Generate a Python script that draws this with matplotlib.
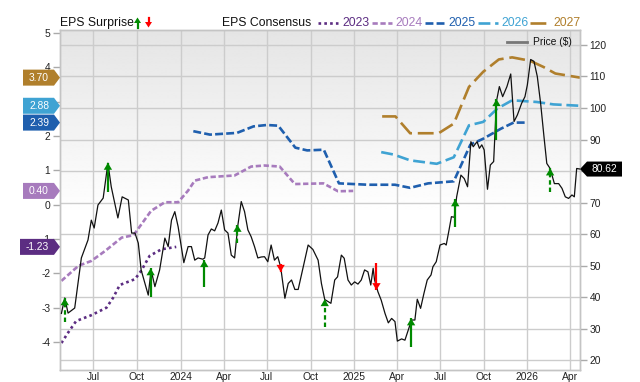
import matplotlib
matplotlib.use('Agg')
import matplotlib.pyplot as plt
from matplotlib.transforms import blended_transform_factory
from matplotlib.patches import Polygon
from matplotlib.lines import Line2D
import numpy as np
import pandas as pd

plt.rcParams['font.family'] = ['Liberation Sans', 'DejaVu Sans']

# ---------------- data ----------------
price_dates = [
    "2023-04-25", "2023-05-02", "2023-05-09", "2023-05-23", "2023-06-06", "2023-06-20", "2023-06-27",
    "2023-07-03", "2023-07-11", "2023-07-22", "2023-08-01", "2023-08-08", "2023-08-22", "2023-08-31",
    "2023-09-13", "2023-09-20", "2023-09-27", "2023-10-04", "2023-10-10", "2023-10-25", "2023-10-31",
    "2023-11-08", "2023-11-18", "2023-11-29", "2023-12-06", "2023-12-13", "2023-12-20", "2023-12-27",
    "2024-01-08", "2024-01-17", "2024-01-24", "2024-01-31", "2024-02-07", "2024-02-17", "2024-02-21",
    "2024-02-28", "2024-03-06", "2024-03-13", "2024-03-20", "2024-03-27", "2024-04-03", "2024-04-10",
    "2024-04-17", "2024-04-24", "2024-05-01", "2024-05-08", "2024-05-15", "2024-05-22", "2024-05-29",
    "2024-06-05", "2024-06-12", "2024-06-19", "2024-06-26", "2024-07-03", "2024-07-10", "2024-07-17",
    "2024-07-24", "2024-07-30", "2024-08-08", "2024-08-15", "2024-08-22", "2024-08-29", "2024-09-05",
    "2024-09-15", "2024-09-26", "2024-10-06", "2024-10-17", "2024-10-24", "2024-10-31", "2024-11-13",
    "2024-11-21", "2024-11-27", "2024-12-05", "2024-12-11", "2024-12-19", "2024-12-26",
    "2025-01-02", "2025-01-09", "2025-01-16", "2025-01-23", "2025-01-30", "2025-02-05", "2025-02-10",
    "2025-02-13", "2025-02-20", "2025-02-27", "2025-03-07", "2025-03-14", "2025-03-21", "2025-03-28",
    "2025-04-02", "2025-04-11", "2025-04-18", "2025-04-25", "2025-05-02", "2025-05-09", "2025-05-14",
    "2025-05-21", "2025-05-28", "2025-06-04", "2025-06-12", "2025-06-16", "2025-06-23", "2025-07-01",
    "2025-07-10", "2025-07-14", "2025-07-20", "2025-07-25", "2025-07-31", "2025-08-05", "2025-08-14",
    "2025-08-21", "2025-08-28", "2025-09-04", "2025-09-09", "2025-09-17", "2025-09-22", "2025-09-27",
    "2025-10-02", "2025-10-09", "2025-10-15", "2025-10-22", "2025-10-28", "2025-11-03", "2025-11-10",
    "2025-11-19", "2025-11-27", "2025-12-04", "2025-12-11", "2025-12-20", "2025-12-27",
    "2026-01-01", "2026-01-08", "2026-01-15", "2026-01-22", "2026-01-29", "2026-02-05", "2026-02-11",
    "2026-02-18", "2026-02-27", "2026-03-08", "2026-03-15", "2026-03-22", "2026-03-29", "2026-04-05",
    "2026-04-10", "2026-04-15", "2026-04-22",
]
price_values = [
    34.8, 39.7, 34.9, 36.5, 52.4, 58.1, 64.4,
    61.9, 69.2, 71.4, 82.5, 75.0, 65.1, 71.8,
    70.8, 60.3, 60.3, 57.1, 48.6, 40.6, 48.6,
    43.3, 48.6, 58.7, 56.0, 64.4, 67.1, 62.3,
    50.9, 56.0, 56.0, 51.7, 52.4, 52.0, 52.4,
    59.7, 61.6, 61.0, 63.5, 67.6, 61.3, 60.3,
    53.3, 52.4, 62.9, 70.3, 67.1, 61.3, 59.1,
    56.0, 52.4, 52.7, 52.8, 51.2, 56.5, 51.7,
    52.8, 49.6, 39.6, 44.3, 45.4, 42.4, 42.4,
    49.1, 56.5, 55.1, 51.7, 44.3, 39.2, 38.0,
    45.4, 46.4, 53.3, 52.3, 45.4, 43.8,
    44.8, 44.1, 45.4, 48.6, 48.0, 43.8, 49.1,
    45.4, 41.7, 39.0, 34.8, 31.8, 33.2, 32.2,
    26.0, 26.7, 26.3, 29.5, 32.7, 32.7, 39.3,
    36.4, 41.1, 45.4, 47.0, 49.6, 51.2, 56.5,
    57.0, 56.5, 61.3, 65.5, 65.3, 71.8, 78.7,
    77.6, 75.0, 89.3, 87.7, 89.3, 87.2, 88.3,
    86.7, 74.2, 81.9, 83.0, 102.2, 106.8, 103.6,
    106.8, 110.8, 95.7, 97.8, 101.5, 103.6,
    107.3, 115.4, 114.8, 110.0, 101.5, 91.0, 82.4,
    80.8, 76.0, 76.0, 74.5, 71.8, 71.3, 72.4,
    71.8, 80.8, 80.62,
]
last_price = 80.62

eps2023_dates = ["2023-04-25", "2023-05-09", "2023-05-26", "2023-06-27", "2023-07-29", "2023-08-12",
                 "2023-08-26", "2023-09-27", "2023-10-10", "2023-10-28", "2023-11-22", "2023-12-23"]
eps2023_values = [-4.03, -3.73, -3.39, -3.22, -3.00, -2.71, -2.34, -2.17, -1.93, -1.49, -1.30, -1.23]

eps2024_dates = ["2023-04-25", "2023-05-31", "2023-06-27", "2023-07-26", "2023-08-30", "2023-09-24",
                 "2023-10-31", "2023-11-29", "2023-12-27", "2024-01-17", "2024-01-31", "2024-02-28",
                 "2024-04-24", "2024-05-29", "2024-06-26", "2024-07-28", "2024-08-29", "2024-10-28",
                 "2024-11-28", "2024-12-30"]
eps2024_values = [-2.22, -1.78, -1.64, -1.35, -0.96, -0.89, -0.18, 0.07, 0.07, 0.41, 0.70, 0.80,
                  0.85, 1.11, 1.14, 1.11, 0.60, 0.62, 0.39, 0.40]

eps2025_dates = ["2024-01-28", "2024-03-03", "2024-04-29", "2024-06-03", "2024-07-01", "2024-07-25",
                 "2024-08-30", "2024-09-24", "2024-10-29", "2024-11-30", "2025-01-30", "2025-03-28",
                 "2025-04-29", "2025-06-06", "2025-07-30", "2025-09-03", "2025-09-30", "2025-11-06",
                 "2025-12-03", "2025-12-27"]
eps2025_values = [2.14, 2.04, 2.09, 2.28, 2.32, 2.30, 1.66, 1.58, 1.60, 0.62, 0.58, 0.58,
                  0.49, 0.62, 0.68, 1.75, 1.92, 2.21, 2.39, 2.39]

eps2026_dates = ["2025-02-27", "2025-03-25", "2025-04-29", "2025-06-24", "2025-07-30", "2025-08-31",
                 "2025-09-30", "2025-10-30", "2025-11-30", "2026-01-21", "2026-02-25", "2026-04-22"]
eps2026_values = [1.53, 1.46, 1.29, 1.19, 1.38, 2.31, 2.41, 2.80, 3.04, 2.99, 2.92, 2.88]

eps2027_dates = ["2025-03-01", "2025-03-29", "2025-04-29", "2025-06-28", "2025-07-30", "2025-08-31",
                 "2025-09-30", "2025-11-02", "2025-11-30", "2026-01-07", "2026-02-04", "2026-03-01",
                 "2026-04-22"]
eps2027_values = [2.57, 2.57, 2.08, 2.08, 2.36, 3.43, 3.87, 4.23, 4.29, 4.19, 4.01, 3.82, 3.70]

consensus_years = ["2023", "2024", "2025", "2026", "2027"]
consensus_latest = [-1.23, 0.40, 2.39, 2.88, 3.70]

surprise_dates = ["2023-05-02", "2023-08-01", "2023-10-30", "2024-02-20", "2024-04-30", "2024-07-30",
                  "2024-10-31", "2025-02-17", "2025-05-01", "2025-08-02", "2025-10-28", "2026-02-18"]
surprise_from = [32.2, 73.4, 40.1, 43.1, 57.2, 50.5, 30.6, 50.7, 24.0, 62.2, 89.8, 73.4]
surprise_to = [39.6, 82.6, 49.1, 51.7, 62.9, 48.0, 39.3, 42.2, 33.2, 71.0, 102.8, 80.8]
surprise_dashed = [True, False, False, False, True, False, True, False, False, False, False, True]

tick_dates = ["2023-07-01", "2023-10-01", "2024-01-01", "2024-04-01", "2024-07-01", "2024-10-01",
              "2025-01-01", "2025-04-01", "2025-07-01", "2025-10-01", "2026-01-01", "2026-04-01"]
tick_labels = ["Jul", "Oct", "2024", "Apr", "Jul", "Oct", "2025", "Apr", "Jul", "Oct", "2026", "Apr"]

x_start, x_end = "2023-04-22", "2026-04-22"

# ---------------- style ----------------
colors = {"2023": "#5c2d82", "2024": "#a77bbd", "2025": "#1f5fae", "2026": "#3fa3d3", "2027": "#b07f2c"}
styles = {"2023": (0, (1.0, 1.2)), "2024": (0, (2.0, 1.0)), "2025": (0, (3.0, 1.2)),
          "2026": (0, (4.5, 1.8)), "2027": (0, (6.0, 2.2))}
GREEN, RED = "#008a00", "#ff0000"
GRID = "#cccccc"

W, H = 640, 382
L, R, T, B = 60, 580, 30, 370
fig = plt.figure(figsize=(W / 100, H / 100), dpi=100)
rect = [L / W, 1 - B / H, (R - L) / W, (B - T) / H]


def fx(px):
    return px / W


def fy(py):
    return 1 - py / H


# gradient background
bg = fig.add_axes(rect, zorder=0)
rows = np.linspace(0, 1, 300)
grad = np.clip(0.895 + rows / 0.55 * 0.105, 0, 1).reshape(-1, 1)
bg.imshow(grad, aspect='auto', cmap='gray', vmin=0, vmax=1, extent=[0, 1, 0, 1], interpolation='bilinear')
bg.axis('off')

ax = fig.add_axes(rect, zorder=1)
ax.patch.set_alpha(0)
axp = ax.twinx()

ax.set_xlim(pd.to_datetime(x_start), pd.to_datetime(x_end))
ax.set_ylim(-4.816, 5.087)
axp.set_ylim(16.83, 124.76)

# grid
ax.set_xticks(pd.to_datetime(tick_dates))
ax.set_xticklabels(tick_labels)
ax.grid(axis='x', color=GRID, lw=1, zorder=0)
ax.set_axisbelow(True)
ptrans = blended_transform_factory(ax.transAxes, axp.transData)
price_ticks = list(range(20, 121, 10))
for p in price_ticks:
    ax.plot([0, 1], [p, p], transform=ptrans, color=GRID, lw=1, zorder=0.5)

for a in (ax, axp):
    for s in a.spines.values():
        s.set_color('#c4c4c4')
        s.set_linewidth(1)

eps_ticks = list(range(-4, 6))
ax.set_yticks(eps_ticks)
# the "3" label sits behind the 2.88 tag in the original
ax.set_yticklabels(['' if v == 3 else str(v) for v in eps_ticks])
axp.set_yticks(price_ticks)
# the "80" label sits behind the last-price tag
axp.set_yticklabels(['' if v == 80 else str(v) for v in price_ticks])
ax.tick_params(axis='y', length=5, width=1, color='#aaaaaa', pad=2, labelsize=7.4, labelcolor='#222222')
axp.tick_params(axis='y', length=5, width=1, color='#aaaaaa', pad=2, labelsize=7.4, labelcolor='#222222')
ax.tick_params(axis='x', length=0, pad=1.5, labelsize=7.4, labelcolor='#222222')

# consensus lines
series = {
    "2023": (eps2023_dates, eps2023_values),
    "2024": (eps2024_dates, eps2024_values),
    "2025": (eps2025_dates, eps2025_values),
    "2026": (eps2026_dates, eps2026_values),
    "2027": (eps2027_dates, eps2027_values),
}
for yr, (d, v) in series.items():
    ax.plot(pd.to_datetime(d), v, color=colors[yr], linestyle=styles[yr], lw=1.9, zorder=2,
            dash_capstyle='butt')

# price line
axp.plot(pd.to_datetime(price_dates), price_values, color='#111111', lw=0.9, zorder=3)

# surprise arrows
for d, f, t, dashed in zip(surprise_dates, surprise_from, surprise_to, surprise_dashed):
    dt = pd.to_datetime(d)
    c = GREEN if t > f else RED
    axp.plot([dt, dt], [f, t], color=c, lw=1.6,
             linestyle=(0, (2.0, 1.3)) if dashed else '-', zorder=4, solid_capstyle='butt')
    direction = 1 if t > f else -1
    axp.annotate('', xy=(dt, t), xytext=(dt, t - direction * 0.5),
                 arrowprops=dict(arrowstyle='-|>,head_length=0.5,head_width=0.3', color=c,
                                 lw=0, shrinkA=0, shrinkB=0), zorder=5)

# price legend inside plot
fig.add_artist(Line2D([fx(507), fx(527)], [fy(42), fy(42)], color='#777777', lw=2))
fig.text(fx(533), fy(42), 'Price ($)', fontsize=7.4, va='center', ha='left', color='#111111')

# header legend
fig.text(fx(60), fy(23), 'EPS Surprise', fontsize=8.8, va='center', ha='left', color='#111111')


def header_arrow(xc, up, color):
    if up:
        shaft = ([xc, xc], [27.5, 22])
        head = [(xc - 3.5, 23), (xc + 3.5, 23), (xc, 17.5)]
    else:
        shaft = ([xc, xc], [17.5, 23])
        head = [(xc - 3.5, 22), (xc + 3.5, 22), (xc, 27.5)]
    fig.add_artist(Line2D([fx(v) for v in shaft[0]], [fy(v) for v in shaft[1]], color=color, lw=1.6))
    fig.add_artist(Polygon([(fx(a), fy(b)) for a, b in head], closed=True, transform=fig.transFigure,
                           facecolor=color, edgecolor='none'))


header_arrow(137.5, True, GREEN)
header_arrow(148.5, False, RED)

fig.text(fx(222), fy(23), 'EPS Consensus', fontsize=8.8, va='center', ha='left', color='#111111')
leg_pos = {"2023": (318, 338, 342), "2024": (372, 392, 395), "2025": (425, 445, 448),
           "2026": (478, 498, 501), "2027": (530, 551, 553)}
for yr in consensus_years:
    x0, x1, xt = leg_pos[yr]
    fig.add_artist(Line2D([fx(x0), fx(x1)], [fy(23), fy(23)], color=colors[yr],
                          linestyle=styles[yr], lw=1.9, dash_capstyle='butt'))
    fig.text(fx(xt), fy(23), yr, fontsize=8.8, va='center', ha='left', color=colors[yr])

fig_h_px = fig.dpi * fig.get_size_inches()[1]

# value tags on the left
for yr, val in zip(consensus_years, consensus_latest):
    yd = ax.transData.transform((0, val))[1]
    ypx = H * (1 - yd / fig_h_px)
    txt = f"{val:.2f}"
    xl = 20 if len(txt) > 4 else 23
    pts = [(xl, ypx - 8), (54, ypx - 8), (60, ypx), (54, ypx + 8), (xl, ypx + 8)]
    fig.add_artist(Polygon([(fx(a), fy(b)) for a, b in pts], closed=True, transform=fig.transFigure,
                           facecolor=colors[yr], edgecolor='none', zorder=10))
    fig.text(fx((xl + 54) / 2 + 0.5), fy(ypx), txt, fontsize=7.4, color='white',
             va='center', ha='center', zorder=11)

# last price tag on the right
yd = axp.transData.transform((0, last_price))[1]
ypx = H * (1 - yd / fig_h_px)
pts = [(580, ypx), (587, ypx - 7.5), (622, ypx - 7.5), (622, ypx + 7.5), (587, ypx + 7.5)]
fig.add_artist(Polygon([(fx(a), fy(b)) for a, b in pts], closed=True, transform=fig.transFigure,
                       facecolor='black', edgecolor='none', zorder=10))
fig.text(fx(604.5), fy(ypx), f"{last_price:.2f}", fontsize=7.4, color='white', va='center',
         ha='center', zorder=11)

fig.savefig('out.png', dpi=100)
